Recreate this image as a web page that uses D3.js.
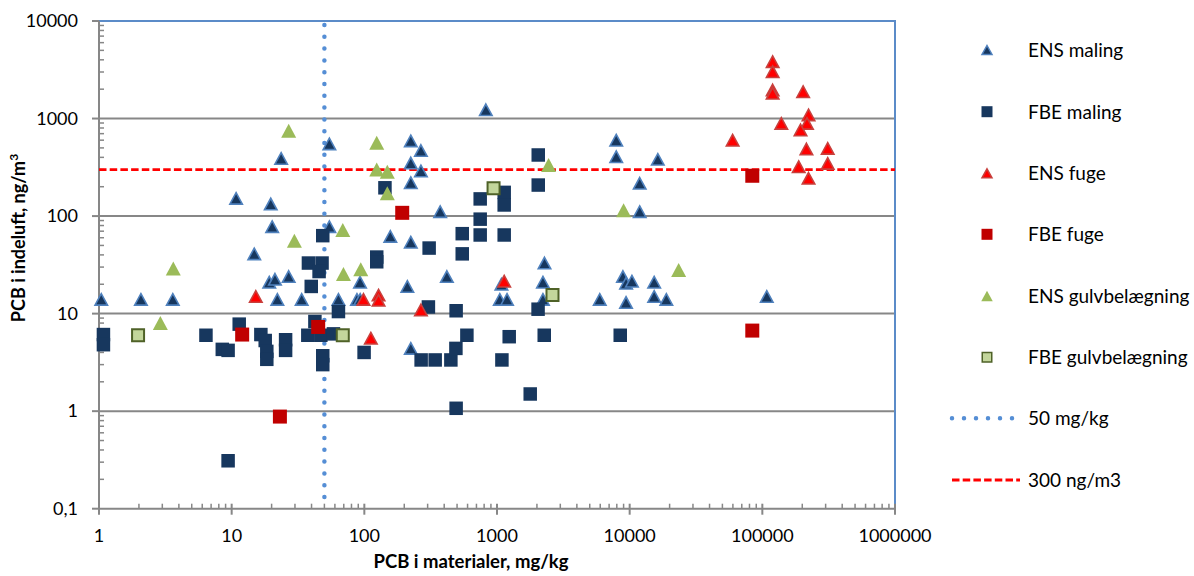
<!DOCTYPE html>
<html>
<head>
<meta charset="utf-8">
<script src="https://cdn.jsdelivr.net/npm/d3@7"></script>
<style>
  html, body { margin: 0; padding: 0; background: #fff; }
  svg { display: block; }
  text { font-family: Lato, "Open Sans", sans-serif; fill: #000; }
</style>
</head>
<body>
<svg id="chart" width="1194" height="576"></svg>
<script>
// ---------- data ----------
const xTicks = [1, 10, 100, 1000, 10000, 100000, 1000000];
const xTickLabels = ["1", "10", "100", "1000", "10000", "100000", "1000000"];
const yTicks = [0.1, 1, 10, 100, 1000, 10000];
const yTickLabels = ["0,1", "1", "10", "100", "1000", "10000"];

const seriesNames = ["ENS maling", "FBE maling", "ENS fuge", "FBE fuge", "ENS gulvbelægning", "FBE gulvbelægning"];
const refNames = ["50 mg/kg", "300 ng/m3"];
const refX = 50;     // mg/kg
const refY = 300;    // ng/m3

const ensMaling = [
  [1.04, 14], [2.07, 14], [3.6, 14], [10.8, 152], [14.8, 41], [19.2, 21], [21.2, 22.5], [26.9, 24],
  [19.7, 133], [20.2, 78], [23.6, 390], [22.1, 14], [33.7, 14], [54.5, 550], [54.5, 78], [63.8, 14],
  [88, 14], [93, 14], [92.8, 21], [211, 19], [224, 4.4], [224, 590], [267, 470], [224, 350],
  [267, 290], [224, 220], [373, 111], [157, 62], [224, 54], [419, 24], [824, 1230], [1050, 14],
  [1190, 14], [1080, 20], [2280, 33], [2220, 21], [2220, 14], [5950, 14], [8900, 24], [9400, 20.5],
  [10400, 21.5], [9390, 13], [15300, 21], [15300, 15], [18900, 14], [108000, 15], [7920, 600],
  [7920, 406], [16300, 382], [11900, 217], [11900, 111]
];
const fbeMaling = [
  [1.08, 6.1], [1.08, 4.8], [6.4, 6], [8.5, 4.3], [9.4, 4.2], [11.4, 7.8], [16.6, 6.1], [17.9, 5.3],
  [18.4, 4.1], [18.4, 3.4], [25.5, 5.4], [25.5, 4.2], [37.5, 6], [42.4, 8.3], [47, 6], [58.5, 6.2],
  [48.6, 3.7], [48.6, 3.0], [63.8, 10.5], [9.4, 0.31], [48.6, 63], [37.9, 33], [48, 33], [45.6, 27],
  [39.8, 19], [124, 38], [124, 34], [143, 195], [308, 47], [547, 66], [547, 41], [747, 150], [747, 93],
  [747, 64], [1133, 175], [1133, 130], [1133, 64], [2046, 423], [2046, 208], [99.6, 4.0], [304, 11.7],
  [268, 3.35], [342, 3.35], [449, 3.35], [490, 4.4], [492, 10.7], [492, 1.07], [593, 6.0], [1089, 3.35],
  [1236, 5.8], [1780, 1.5], [2040, 11.1], [2270, 6.0], [8490, 6.0]
];
const ensFuge = [
  [15.2, 15], [98.5, 14], [128, 15.5], [128, 13.7], [112, 5.6], [267, 10.9], [1133, 21.5],
  [59700, 600], [119600, 3830], [119600, 3020], [119600, 1960], [119600, 1815], [203000, 1885],
  [223000, 1090], [217000, 893], [139000, 893], [194000, 764], [215000, 487], [311000, 495],
  [311000, 347], [188000, 321], [223000, 244]
];
const fbeFuge = [
  [12.0, 6.1], [44.9, 7.3], [23.1, 0.88], [193, 108], [84000, 6.7], [84000, 259]
];
const ensGulv = [
  [2.9, 8.0], [3.63, 29], [26.9, 750], [29.7, 56], [68.8, 72], [69.6, 25.5], [94, 28.5], [124, 565],
  [124, 301], [149, 285], [149, 171], [2448, 334], [9000, 115], [23400, 28]
];
const fbeGulv = [
  [1.97, 6.0], [68.8, 6.0], [942, 193], [2620, 15.5]
];

// ---------- layout ----------
const svg = d3.select("#chart");
const L = 99, R = 895, T = 21, B = 508.7;
const x = d3.scaleLog().domain([1, 1e6]).range([L, R]);
const y = d3.scaleLog().domain([0.1, 10000]).range([B, T]);
const grid = "#878787";

// gridlines
svg.append("g").selectAll("line").data(yTicks.slice(1, -1)).join("line")
  .attr("x1", L).attr("x2", R).attr("y1", d => y(d)).attr("y2", d => y(d))
  .attr("stroke", grid).attr("stroke-width", 2);

// plot border (top/right blue)
svg.append("path").attr("d", `M${L},${T}H${R}V${B}`).attr("fill", "none")
  .attr("stroke", "#5B8BC8").attr("stroke-width", 2);

// minor ticks
const minorX = [], minorY = [];
for (let e = 0; e < 6; e++) for (let m = 2; m <= 9; m++) minorX.push(m * Math.pow(10, e));
for (let e = -1; e < 4; e++) for (let m = 2; m <= 9; m++) minorY.push(m * Math.pow(10, e));

svg.append("g").selectAll("line").data(minorX).join("line")
  .attr("x1", d => x(d)).attr("x2", d => x(d)).attr("y1", B - 5).attr("y2", B)
  .attr("stroke", grid).attr("stroke-width", 1.5);
svg.append("g").selectAll("line").data(minorY).join("line")
  .attr("x1", L).attr("x2", L + 5).attr("y1", d => y(d)).attr("y2", d => y(d))
  .attr("stroke", grid).attr("stroke-width", 1.5);

// axes
svg.append("line").attr("x1", L).attr("x2", L).attr("y1", T).attr("y2", B)
  .attr("stroke", grid).attr("stroke-width", 2);
svg.append("line").attr("x1", L).attr("x2", R).attr("y1", B).attr("y2", B)
  .attr("stroke", grid).attr("stroke-width", 2);

svg.append("g").selectAll("line").data(xTicks).join("line")
  .attr("x1", d => x(d)).attr("x2", d => x(d)).attr("y1", B - 5).attr("y2", B + 6)
  .attr("stroke", grid).attr("stroke-width", 2);
svg.append("g").selectAll("line").data(yTicks).join("line")
  .attr("x1", L - 7).attr("x2", L).attr("y1", d => y(d)).attr("y2", d => y(d))
  .attr("stroke", grid).attr("stroke-width", 2);

// tick labels
svg.append("g").selectAll("text").data(xTicks).join("text")
  .attr("x", d => x(d)).attr("y", 542).attr("text-anchor", "middle")
  .style("font-size", "18px").text((d, i) => xTickLabels[i]);
svg.append("g").selectAll("text").data(yTicks).join("text")
  .attr("x", 78).attr("y", d => y(d) + 6.3).attr("text-anchor", "end")
  .style("font-size", "18px").text((d, i) => yTickLabels[i]);

// axis titles
svg.append("text").attr("x", 471).attr("y", 568).attr("text-anchor", "middle")
  .style("font-size", "18.5px").style("font-weight", "bold").text("PCB i materialer, mg/kg");
const yt = svg.append("text").attr("transform", "translate(25,238) rotate(-90)")
  .attr("text-anchor", "middle").style("font-size", "18px").style("font-weight", "bold");
yt.append("tspan").text("PCB i indeluft, ng/m");
yt.append("tspan").attr("dy", -7).style("font-size", "12px").text("3");

// reference lines
svg.append("line").attr("x1", x(refX)).attr("x2", x(refX)).attr("y1", T + 4).attr("y2", B)
  .attr("stroke", "#558ED5").attr("stroke-width", 4.5).attr("stroke-linecap", "round")
  .attr("stroke-dasharray", "0 11.8");
svg.append("line").attr("x1", L).attr("x2", R).attr("y1", y(refY)).attr("y2", y(refY))
  .attr("stroke", "#FF0000").attr("stroke-width", 2.8).attr("stroke-dasharray", "7.5 3.2");

// markers
function tri(w, h) { return `M0,${-h/2}L${w/2},${h/2}L${-w/2},${h/2}Z`; }
function sq(s) { return `M${-s/2},${-s/2}h${s}v${s}h${-s}Z`; }

const styles = [
  { d: tri(12.5, 11.5), fill: "#17375E", stroke: "#4F81BD", sw: 1.6, ld: tri(10, 9) },
  { d: sq(13.5), fill: "#17375E", stroke: "none", sw: 0, ld: sq(11) },
  { d: tri(12.5, 11.5), fill: "#FF0000", stroke: "#C8403D", sw: 1.6, ld: tri(10, 9) },
  { d: sq(14), fill: "#C00000", stroke: "none", sw: 0, ld: sq(11) },
  { d: tri(15, 14), fill: "#9BBB59", stroke: "none", sw: 0, ld: tri(11.5, 10.5) },
  { d: sq(12), fill: "#C3D69B", stroke: "#4F6228", sw: 2, ld: sq(9.5) }
];
const allSeries = [ensMaling, fbeMaling, ensFuge, fbeFuge, ensGulv, fbeGulv];

allSeries.forEach((data, i) => {
  const st = styles[i];
  svg.append("g").selectAll("path").data(data).join("path")
    .attr("d", st.d)
    .attr("transform", d => `translate(${x(d[0])},${y(d[1])})`)
    .attr("fill", st.fill).attr("stroke", st.stroke).attr("stroke-width", st.sw);
});

// legend
const legY = [50, 111.7, 173.3, 234.3, 296, 357.3, 418.3, 480];
const lg = svg.append("g");
seriesNames.forEach((name, i) => {
  const st = styles[i];
  lg.append("path").attr("d", st.ld).attr("transform", `translate(987,${legY[i]})`)
    .attr("fill", st.fill).attr("stroke", st.stroke).attr("stroke-width", st.sw ? Math.min(st.sw, 1.5) : 0);
  lg.append("text").attr("x", 1028).attr("y", legY[i] + 6.8).style("font-size", "19px").text(name);
});
lg.append("line").attr("x1", 952).attr("x2", 1013).attr("y1", legY[6]).attr("y2", legY[6])
  .attr("stroke", "#558ED5").attr("stroke-width", 4.5).attr("stroke-linecap", "round")
  .attr("stroke-dasharray", "0 12");
lg.append("text").attr("x", 1028).attr("y", legY[6] + 6.8).style("font-size", "19px").text(refNames[0]);
lg.append("line").attr("x1", 952).attr("x2", 1020).attr("y1", legY[7]).attr("y2", legY[7])
  .attr("stroke", "#FF0000").attr("stroke-width", 2.8).attr("stroke-dasharray", "7.5 3.2");
lg.append("text").attr("x", 1028).attr("y", legY[7] + 6.8).style("font-size", "19px").text(refNames[1]);
</script>
</body>
</html>
